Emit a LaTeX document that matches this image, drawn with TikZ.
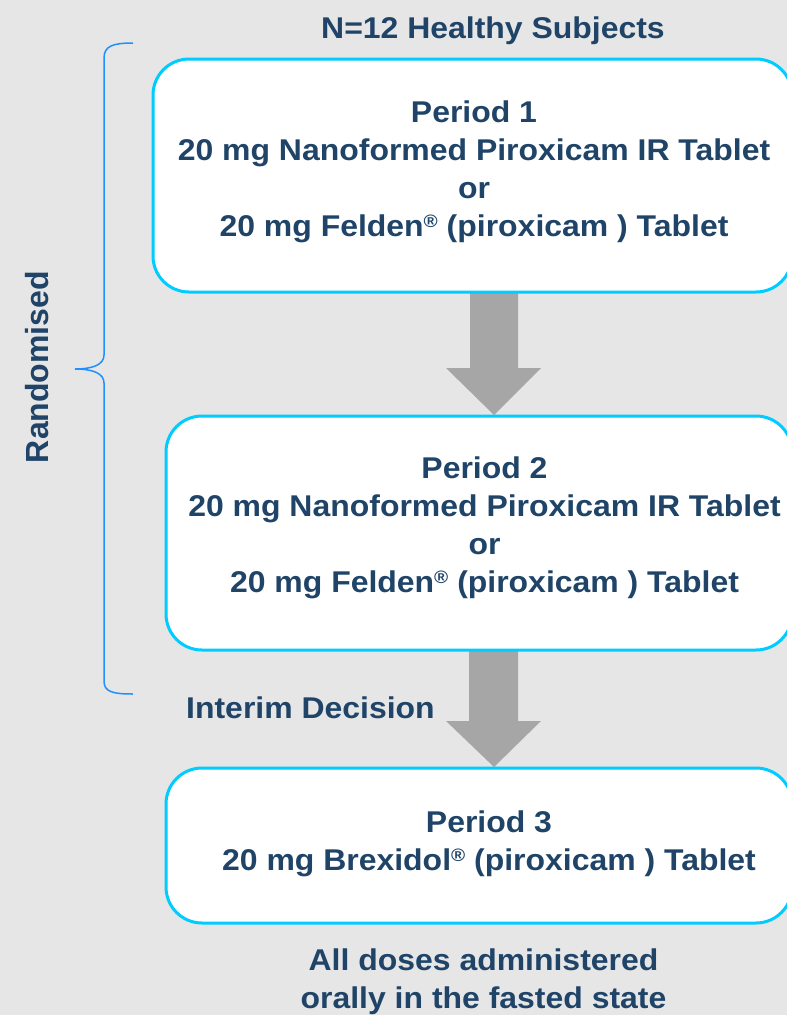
\documentclass[tikz,border=0pt]{standalone}
\usepackage{fontspec}
\setmainfont{Liberation Sans}
\newfontfamily\widefont{Liberation Sans}[FakeStretch=1.065]
\definecolor{bggray}{RGB}{230,230,230}
\definecolor{txtblue}{RGB}{31,68,104}
\definecolor{boxcyan}{RGB}{0,204,255}
\definecolor{arrgray}{RGB}{166,166,166}
\definecolor{braceblue}{RGB}{30,144,255}
\tikzset{
  periodbox/.style={draw=boxcyan, line width=3pt, fill=white, rounded corners=36pt, inner sep=0pt, outer sep=0pt},
  bodytext/.style={text=txtblue, font=\widefont\bfseries\fontsize{30}{38}\selectfont, align=center, inner sep=0pt},
  blockarrow/.style={fill=arrgray, draw=none},
}
\newcommand{\regmark}{{\fontsize{18}{18}\selectfont\raisebox{9pt}{®}}}
\begin{document}
\begin{tikzpicture}[x=1pt,y=-1pt]
\useasboundingbox (0,0) rectangle (787,1015);
\clip (0,0) rectangle (787,1015);
\fill[bggray] (0,0) rectangle (787,1015);

% arrows (drawn under boxes)
\coordinate (a1top) at (494,293);
\coordinate (a1tip) at (494,415);
\coordinate (a2top) at (494,650);
\coordinate (a2tip) at (494,767);
\fill[blockarrow] ([xshift=-24pt]a1top) -- ([xshift=24pt]a1top) -- ([xshift=24pt,yshift=47pt]a1tip) -- ([xshift=47pt,yshift=47pt]a1tip) -- (a1tip) -- ([xshift=-48pt,yshift=47pt]a1tip) -- ([xshift=-24pt,yshift=47pt]a1tip) -- cycle;
\fill[blockarrow] ([xshift=-25pt]a2top) -- ([xshift=24pt]a2top) -- ([xshift=24pt,yshift=46pt]a2tip) -- ([xshift=47pt,yshift=46pt]a2tip) -- (a2tip) -- ([xshift=-48pt,yshift=46pt]a2tip) -- ([xshift=-25pt,yshift=46pt]a2tip) -- cycle;

% boxes
\node[periodbox, minimum width=639pt, minimum height=233pt] (box1) at (472.5,175.5) {};
\node[periodbox, minimum width=626pt, minimum height=234pt] (box2) at (479,533) {};
\node[periodbox, minimum width=626pt, minimum height=155pt] (box3) at (479,845.5) {};

% texts
\node[bodytext, anchor=north] (title) at (493,16.5) {N=12 Healthy Subjects};
\node[bodytext, anchor=north] (p1text) at (474,100.5) {Period 1\\20 mg Nanoformed Piroxicam IR Tablet\\or\\20 mg Felden\regmark{} (piroxicam ) Tablet};
\node[bodytext, anchor=north] (p2text) at (484.5,456.5) {Period 2\\20 mg Nanoformed Piroxicam IR Tablet\\or\\20 mg Felden\regmark{} (piroxicam ) Tablet};
\node[bodytext, anchor=north] (p3text) at (489,810.5) {Period 3\\20 mg Brexidol\regmark{} (piroxicam ) Tablet};
\node[bodytext, anchor=base west] (interim) at (186,718) {Interim Decision};
\node[bodytext, anchor=north] (note) at (483.5,948.5) {All doses administered\\orally in the fasted state};
\node[text=txtblue, font=\bfseries\fontsize{32}{38}\selectfont, inner sep=0pt, rotate=90] (rand) at (37,367) {Randomised};

% brace
\draw[braceblue, line width=1.5pt] (133,43) .. controls (113,43) and (104,46) .. (104,58) -- (104,355) .. controls (104,365) and (92,369) .. (75,369) .. controls (92,369) and (104,373) .. (104,383) -- (104,681) .. controls (104,692) and (113,694) .. (133,694);
\end{tikzpicture}
\end{document}
